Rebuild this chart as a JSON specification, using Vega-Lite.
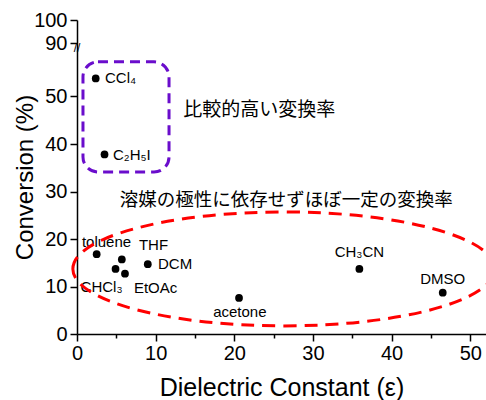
{
  "$schema": "https://vega.github.io/schema/vega-lite/v6.json",
  "width": 409,
  "height": 314,
  "autosize": {"type": "none"},
  "padding": {"left": 77, "top": 20, "right": 0, "bottom": 66},
  "config": {"view": {"stroke": null}, "font": "Liberation Sans"},
  "layer": [
    {
      "data": {"values": [
        {"solvent": "CCl4", "eps": 2.38, "conv": 53.8},
        {"solvent": "C2H5I", "eps": 3.5, "conv": 37.8},
        {"solvent": "toluene", "eps": 2.5, "conv": 16.8},
        {"solvent": "THF", "eps": 5.7, "conv": 15.7},
        {"solvent": "CHCl3", "eps": 4.9, "conv": 13.7},
        {"solvent": "EtOAc", "eps": 6.1, "conv": 12.7},
        {"solvent": "DCM", "eps": 9.0, "conv": 14.7},
        {"solvent": "acetone", "eps": 20.6, "conv": 7.6},
        {"solvent": "CH3CN", "eps": 35.9, "conv": 13.7},
        {"solvent": "DMSO", "eps": 46.5, "conv": 8.7}
      ]},
      "mark": {"type": "point", "filled": true, "color": "black", "size": 60, "opacity": 1},
      "encoding": {
        "x": {
          "field": "eps", "type": "quantitative",
          "scale": {"domain": [0, 52], "nice": false, "zero": false},
          "axis": {
            "title": "Dielectric Constant (ε)",
            "values": [0, 5, 10, 15, 20, 25, 30, 35, 40, 45, 50],
            "labelExpr": "datum.value % 10 === 0 ? datum.label : ''",
            "grid": false,
            "domainColor": "black", "domainWidth": 1.5,
            "tickColor": "black", "tickWidth": 1.5,
            "tickSize": {"condition": {"test": "datum.value % 10 === 0", "value": 7}, "value": 4},
            "labelFontSize": 20, "labelColor": "black", "labelPadding": 2,
            "labelFlush": false, "labelOverlap": false,
            "titleFontSize": 25, "titleFontWeight": "normal", "titleColor": "black", "titlePadding": 12
          }
        },
        "y": {
          "field": "conv", "type": "quantitative",
          "scale": {"domain": [0, 60, 88, 100], "range": [314, 29, 28, 0], "nice": false, "zero": false},
          "axis": {
            "title": "Conversion (%)",
            "values": [0, 5, 10, 15, 20, 25, 30, 35, 40, 45, 50, 55, 90, 95, 100],
            "labelExpr": "datum.value % 10 === 0 ? datum.label : ''",
            "grid": false,
            "domainColor": "black", "domainWidth": 1.5,
            "tickColor": "black", "tickWidth": 1.5,
            "tickSize": {"condition": {"test": "datum.value % 10 === 0", "value": 7}, "value": 4},
            "labelFontSize": 20, "labelColor": "black", "labelPadding": 3,
            "labelFlush": false, "labelOverlap": false,
            "titleFontSize": 24, "titleFontWeight": "normal", "titleColor": "black", "titlePadding": -4
          }
        }
      }
    },
    {
      "data": {"values": [
        {"t": "CCl₄", "x": 3.56, "y": 53.9},
        {"t": "C₂H₅I", "x": 4.58, "y": 37.7},
        {"t": "DCM", "x": 10.3, "y": 14.7}
      ]},
      "mark": {"type": "text", "baseline": "middle", "align": "left", "color": "black", "fontSize": 15},
      "encoding": {
        "x": {"field": "x", "type": "quantitative"},
        "y": {"field": "y", "type": "quantitative"},
        "text": {"field": "t"}
      }
    },
    {
      "data": {"values": [
        {"t": "THF", "x": 9.73, "y": 18.7},
        {"t": "CHCl₃", "x": 3.12, "y": 9.9},
        {"t": "EtOAc", "x": 9.99, "y": 9.7},
        {"t": "CH₃CN", "x": 35.9, "y": 17.3},
        {"t": "DMSO", "x": 46.5, "y": 11.6},
        {"t": "toluene", "x": 3.75, "y": 19.4},
        {"t": "acetone", "x": 20.7, "y": 4.6}
      ]},
      "mark": {"type": "text", "baseline": "middle", "align": "center", "color": "black", "fontSize": 15},
      "encoding": {
        "x": {"field": "x", "type": "quantitative"},
        "y": {"field": "y", "type": "quantitative"},
        "text": {"field": "t"}
      }
    },
    {
      "data": {"values": [
        {"t": "比較的高い変換率", "x": 13.5, "y": 47.1}
      ]},
      "mark": {"type": "text", "baseline": "middle", "align": "left", "color": "black", "fontSize": 19, "font": "Noto Sans CJK JP"},
      "encoding": {
        "x": {"field": "x", "type": "quantitative"},
        "y": {"field": "y", "type": "quantitative"},
        "text": {"field": "t"}
      }
    },
    {
      "data": {"values": [
        {"t": "溶媒の極性に依存せずほぼ一定の変換率", "x": 26.6, "y": 28.2}
      ]},
      "mark": {"type": "text", "baseline": "middle", "align": "center", "color": "black", "fontSize": 18.5, "font": "Noto Sans CJK JP"},
      "encoding": {
        "x": {"field": "x", "type": "quantitative"},
        "y": {"field": "y", "type": "quantitative"},
        "text": {"field": "t"}
      }
    },
    {
      "data": {"values": [{"x1": 0.76, "x2": 11.7, "y1": 57.3, "y2": 34.1}]},
      "mark": {"type": "rect", "fill": null, "stroke": "#6a0dcc", "strokeWidth": 3, "strokeDash": [10, 6], "cornerRadius": 15},
      "encoding": {
        "x": {"field": "x1", "type": "quantitative"},
        "x2": {"field": "x2"},
        "y": {"field": "y1", "type": "quantitative"},
        "y2": {"field": "y2"}
      }
    },
    {
      "data": {"values": [{"cx": 26.3, "cy": 13.7}]},
      "mark": {"type": "point", "filled": false, "fill": null, "stroke": "#ff0000", "strokeWidth": 3, "strokeDash": [13, 8], "opacity": 1, "size": 178084, "shape": "M-1,0A1,0.27,0,1,1,1,0A1,0.27,0,1,1,-1,0Z"},
      "encoding": {
        "x": {"field": "cx", "type": "quantitative"},
        "y": {"field": "cy", "type": "quantitative"}
      }
    },
    {
      "data": {"values": [{"x": 0, "y": 88, "t": "//"}]},
      "mark": {"type": "text", "align": "center", "baseline": "middle", "fontSize": 12, "color": "black"},
      "encoding": {
        "x": {"field": "x", "type": "quantitative"},
        "y": {"field": "y", "type": "quantitative"},
        "text": {"field": "t"}
      }
    }
  ]
}
